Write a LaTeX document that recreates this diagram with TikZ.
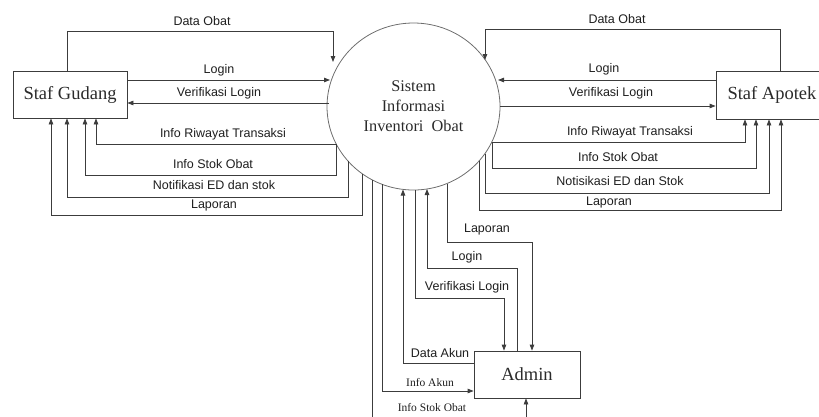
\documentclass[tikz,border=0pt]{standalone}
\usepackage{fontspec}
\setmainfont{Liberation Serif}
\newfontfamily\lblfont{Liberation Sans}
\usetikzlibrary{arrows.meta,shapes.geometric}
\definecolor{linegray}{HTML}{3C3C3C}
\definecolor{circgray}{HTML}{6E6E6E}
\definecolor{textdark}{HTML}{1E1E1E}
\definecolor{textgray}{HTML}{2A2A2A}
\begin{document}
\begin{tikzpicture}[x=1pt,y=-1pt,
  flow/.style={draw=linegray, line width=0.8pt, -{Triangle[length=6pt,width=4.5pt]}},
  entity/.style={draw=linegray, line width=0.8pt, rectangle, inner sep=0pt, text=textgray, font=\fontsize{18.5}{20}\selectfont},
  proc/.style={draw=circgray, ellipse, line width=0.8pt, minimum width=173pt, minimum height=167pt, inner sep=0pt, align=center, text=textgray, font=\fontsize{16.3}{20}\selectfont},
  lbl/.style={font=\lblfont\fontsize{12.5}{14}\selectfont, text=textdark, inner sep=0pt},
  slbl/.style={font=\fontsize{11.5}{13}\selectfont, text=textdark, inner sep=0pt}]
\useasboundingbox (0,0) rectangle (819,416);
\clip (0,0) rectangle (819,416);

% entities and process
\node[entity, minimum width=114pt, minimum height=47pt] (sg) at (70,94.5) {Staf Gudang};
\node[entity, minimum width=112pt, minimum height=48pt] (sa) at (772,95) {Staf Apotek};
\node[entity, minimum width=106pt, minimum height=47pt] (ad) at (527,374.5) {Admin};
\node[proc] (sys) at (413.5,106.5) {Sistem\\Informasi\\Inventori\ \ Obat};

% circle-side end points
\coordinate (cA) at (333,62);
\coordinate (cB) at (330,80);
\coordinate (cC) at (329,103);
\coordinate (cD) at (336,144);
\coordinate (cE) at (348,161);
\coordinate (cF) at (362,173.5);
\coordinate (cG) at (485,60);
\coordinate (cH) at (498,80);
\coordinate (cI) at (500,106);
\coordinate (cJ) at (492,142);
\coordinate (cK) at (485,153.5);
\coordinate (cL) at (479,161);
\coordinate (cM) at (372,180);
\coordinate (cN) at (382,184);
\coordinate (cO) at (403,189.5);
\coordinate (cP) at (415,190);
\coordinate (cQ) at (427,189);
\coordinate (cR) at (447,183.5);

% Staf Gudang flows
\draw[flow] (67,0 |- sg.north) -- (67,31) -- (333,31) -- (cA);
\draw[flow] (sg.east |- cB) -- (cB);
\draw[flow] (cC) -- (sg.east |- cC);
\draw[flow] (cD) -- (96,144) -- (96,0 |- sg.south);
\draw[flow] (cD) -- (336,175) -- (85,175) -- (85,0 |- sg.south);
\draw[flow] (cE) -- (348,197) -- (67,197) -- (67,0 |- sg.south);
\draw[flow] (cF) -- (362,215) -- (51,215) -- (51,0 |- sg.south);

% Staf Apotek flows
\draw[flow] (780,0 |- sa.north) -- (780,29) -- (485,29) -- (cG);
\draw[flow] (sa.west |- cH) -- (cH);
\draw[flow] (cI) -- (sa.west |- cI);
\draw[flow] (cJ) -- (745,142) -- (745,0 |- sa.south);
\draw[flow] (cJ) -- (492,168) -- (756,168) -- (756,0 |- sa.south);
\draw[flow] (cK) -- (485,193) -- (769,193) -- (769,0 |- sa.south);
\draw[flow] (cL) -- (479,210) -- (781,210) -- (781,0 |- sa.south);

% Admin flows
\draw[flow] (cM) -- (372,425) -- (526,425) -- (526,0 |- ad.south);
\draw[flow] (cN) -- (382,391) -- (ad.west |- 0,391);
\draw[flow] (ad.west |- 0,363) -- (403,363) -- (cO);
\draw[flow] (cP) -- (415,298) -- (504,298) -- (504,0 |- ad.north);
\draw[flow] (517,0 |- ad.north) -- (517,268) -- (427,268) -- (cQ);
\draw[flow] (cR) -- (447,242) -- (532,242) -- (532,0 |- ad.north);

% labels left
\node[lbl] (l1) at (202,21) {Data Obat};
\node[lbl] (l2) at (219,70) {Login};
\node[lbl] (l3) at (219,93) {Verifikasi Login};
\node[lbl] (l4) at (223,134) {Info Riwayat Transaksi};
\node[lbl] (l5) at (213,164) {Info Stok Obat};
\node[lbl] (l6) at (214,185) {Notifikasi ED dan stok};
\node[lbl] (l7) at (214,205) {Laporan};
% labels right
\node[lbl] (r1) at (617,19) {Data Obat};
\node[lbl] (r2) at (604,69) {Login};
\node[lbl] (r3) at (611,93) {Verifikasi Login};
\node[lbl] (r4) at (630,132) {Info Riwayat Transaksi};
\node[lbl] (r5) at (618,157) {Info Stok Obat};
\node[lbl] (r6) at (620,181) {Notisikasi ED dan Stok};
\node[lbl] (r7) at (609,202) {Laporan};
% labels bottom
\node[lbl] (b1) at (487,229) {Laporan};
\node[lbl] (b2) at (467,257) {Login};
\node[lbl] (b3) at (467,287) {Verifikasi Login};
\node[lbl] (b4) at (440,353) {Data Akun};
\node[slbl] (b5) at (430,382) {Info Akun};
\node[slbl] (b6) at (432,407) {Info Stok Obat};
\end{tikzpicture}
\end{document}
